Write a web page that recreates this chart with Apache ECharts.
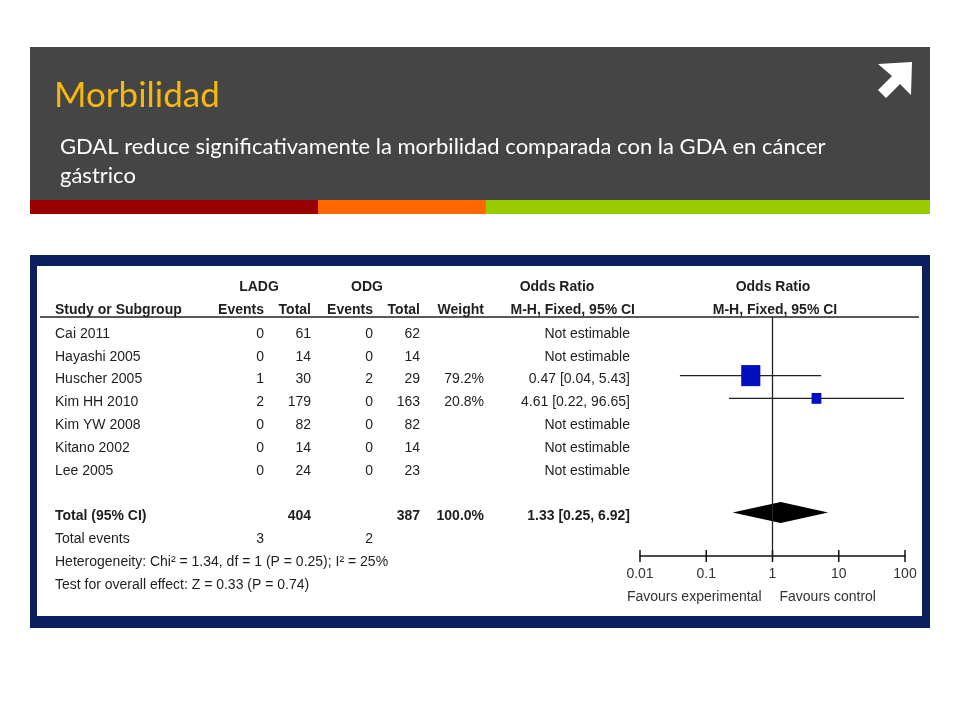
<!DOCTYPE html>
<html>
<head>
<meta charset="utf-8">
<script src="https://cdn.jsdelivr.net/npm/echarts@6/dist/echarts.min.js"></script>
<style>
  html, body { margin: 0; padding: 0; background: #fff; }
  #main { width: 960px; height: 720px; }
</style>
</head>
<body>
<div id="main"></div>
<script>
// datos del forest plot
var studies = ['Cai 2011', 'Hayashi 2005', 'Huscher 2005', 'Kim HH 2010', 'Kim YW 2008', 'Kitano 2002', 'Lee 2005'];
var ladgEvents = [0, 0, 1, 2, 0, 0, 0];
var ladgTotal = [61, 14, 30, 179, 82, 14, 24];
var odgEvents = [0, 0, 2, 0, 0, 0, 0];
var odgTotal = [62, 14, 29, 163, 82, 14, 23];
var weights = [null, null, 79.2, 20.8, null, null, null];
var oddsRatio = [null, null, 0.47, 4.61, null, null, null];
var ciLow = [null, null, 0.04, 0.22, null, null, null];
var ciHigh = [null, null, 5.43, 96.65, null, null, null];

var totalLadg = 404, totalOdg = 387, totalWeight = 100.0;
var pooled = [1.33, 0.25, 6.92]; // OR, low, high
var eventsLadg = 3, eventsOdg = 2;
var heterogeneity = 'Heterogeneity: Chi² = 1.34, df = 1 (P = 0.25); I² = 25%';
var overallTest = 'Test for overall effect: Z = 0.33 (P = 0.74)';
var xTicks = [0.01, 0.1, 1, 10, 100];

var TOTAL_ROW = 8;
var FONT = '"Liberation Sans", Arial, sans-serif';
var TXT = '#1e1e1e';

var chart = echarts.init(document.getElementById('main'));

function orText(o, l, h) {
  if (o == null) return 'Not estimable';
  return o.toFixed(2) + ' [' + l.toFixed(2) + ', ' + h.toFixed(2) + ']';
}

var studyData = [];
for (var i = 0; i < studies.length; i++) {
  if (oddsRatio[i] != null) studyData.push([oddsRatio[i], i, ciLow[i], ciHigh[i], weights[i]]);
}

var option = {
  animation: false,
  grid: { left: 640, right: 55, top: 317, bottom: 164 },
  xAxis: {
    type: 'log', logBase: 10, min: 0.01, max: 100,
    axisLine: { onZero: false, lineStyle: { color: '#111', width: 1.5 } },
    axisTick: { show: false },
    splitLine: { show: false },
    axisLabel: {
      color: '#333', fontSize: 14, fontFamily: FONT, margin: 11,
      formatter: function (v) { return String(+v.toPrecision(3)); }
    }
  },
  yAxis: { type: 'value', inverse: true, min: -0.57, max: 9.91, show: false },
  series: [
    {
      name: 'studies', type: 'custom', data: studyData,
      renderItem: function (params, api) {
        var c = api.coord([api.value(0), api.value(1)]);
        var lo = api.coord([api.value(2), api.value(1)]);
        var hi = api.coord([api.value(3), api.value(1)]);
        var s = 2.15 * Math.sqrt(api.value(4));
        return {
          type: 'group', children: [
            { type: 'line', shape: { x1: lo[0], y1: lo[1], x2: hi[0], y2: hi[1] },
              style: { stroke: '#222', lineWidth: 1.3 } },
            { type: 'rect', shape: { x: c[0] - s / 2, y: c[1] - s * 0.55, width: s, height: s * 1.1 },
              style: { fill: '#0010bf' } }
          ]
        };
      },
      markLine: {
        silent: true, symbol: 'none', label: { show: false },
        lineStyle: { color: '#222', width: 1.3, type: 'solid' },
        data: [{ xAxis: 1 }]
      }
    },
    {
      name: 'total', type: 'custom', data: [[pooled[0], TOTAL_ROW, pooled[1], pooled[2]]],
      renderItem: function (params, api) {
        var c = api.coord([api.value(0), api.value(1)]);
        var lo = api.coord([api.value(2), api.value(1)]);
        var hi = api.coord([api.value(3), api.value(1)]);
        var h = 10.5;
        return {
          type: 'polygon',
          shape: { points: [[lo[0], c[1]], [c[0], c[1] - h], [hi[0], c[1]], [c[0], c[1] + h]] },
          style: { fill: '#000' }
        };
      }
    },
    {
      name: 'ticks', type: 'custom', data: xTicks.map(function (t) { return [t, 9.91]; }),
      renderItem: function (params, api) {
        var p = api.coord([api.value(0), api.value(1)]);
        return { type: 'line', shape: { x1: p[0], y1: p[1] - 6, x2: p[0], y2: p[1] + 6 },
          style: { stroke: '#111', lineWidth: 1.5 } };
      }
    }
  ]
};
chart.setOption(option);

// textos de la tabla, alineados con las filas del eje y
function rowY(r) { return chart.convertToPixel({ yAxisIndex: 0 }, r) + 4; }
function txt(s, x, y, align, bold, extra) {
  var st = { text: s, x: x, y: y, align: align || 'left', verticalAlign: 'middle',
    fill: TXT, font: (bold ? 'bold ' : '') + '14px ' + FONT };
  if (extra) for (var k in extra) st[k] = extra[k];
  return { type: 'text', z: 10, style: st };
}

var COL = { name: 55, evA: 264, totA: 311, evB: 373, totB: 420, wt: 484, or: 630 };
var g = [];

// cabecera gris de la diapositiva
g.push({ type: 'rect', z: 1, shape: { x: 30, y: 47, width: 900, height: 153 }, style: { fill: '#454545' } });
g.push({ type: 'rect', z: 1, shape: { x: 30, y: 200, width: 288, height: 14 }, style: { fill: '#990000' } });
g.push({ type: 'rect', z: 1, shape: { x: 318, y: 200, width: 168, height: 14 }, style: { fill: '#ff6600' } });
g.push({ type: 'rect', z: 1, shape: { x: 486, y: 200, width: 444, height: 14 }, style: { fill: '#99cc00' } });
g.push({ type: 'text', z: 2, style: { text: 'Morbilidad', x: 54, y: 96, verticalAlign: 'middle',
  fill: '#f6b80c', font: '35px Lato, "Open Sans", sans-serif' } });
g.push({ type: 'text', z: 2, style: { text: 'GDAL reduce significativamente la morbilidad comparada con la GDA en cáncer', x: 60, y: 147,
  verticalAlign: 'middle', fill: '#fff', font: '22px Lato, "Open Sans", sans-serif' } });
g.push({ type: 'text', z: 2, style: { text: 'gástrico', x: 60, y: 176,
  verticalAlign: 'middle', fill: '#fff', font: '22px Lato, "Open Sans", sans-serif' } });
g.push({ type: 'polygon', z: 2, shape: { points: [[878, 64], [912, 62], [911, 95], [900, 84], [886, 98], [878, 90], [892, 76]] },
  style: { fill: '#fff' } });

// marco azul del gráfico
g.push({ type: 'rect', z: 0, shape: { x: 30, y: 255, width: 900, height: 373 }, style: { fill: '#0b1f5e' } });
g.push({ type: 'rect', z: 0, shape: { x: 37, y: 266, width: 885, height: 350 }, style: { fill: '#fff' } });

// encabezados
g.push(txt('LADG', 259, 287, 'center', true));
g.push(txt('ODG', 367, 287, 'center', true));
g.push(txt('Odds Ratio', 557, 287, 'center', true));
g.push(txt('Odds Ratio', 773, 287, 'center', true));
g.push(txt('Study or Subgroup', COL.name, 310, 'left', true));
g.push(txt('Events', COL.evA, 310, 'right', true));
g.push(txt('Total', COL.totA, 310, 'right', true));
g.push(txt('Events', COL.evB, 310, 'right', true));
g.push(txt('Total', COL.totB, 310, 'right', true));
g.push(txt('Weight', COL.wt, 310, 'right', true));
g.push(txt('M-H, Fixed, 95% CI', 635, 310, 'right', true));
g.push(txt('M-H, Fixed, 95% CI', 775, 310, 'center', true));
g.push({ type: 'line', z: 10, shape: { x1: 40, y1: 317, x2: 919, y2: 317 }, style: { stroke: '#222', lineWidth: 1.5 } });

// filas de estudios
for (var r = 0; r < studies.length; r++) {
  var y = rowY(r);
  g.push(txt(studies[r], COL.name, y));
  g.push(txt(String(ladgEvents[r]), COL.evA, y, 'right'));
  g.push(txt(String(ladgTotal[r]), COL.totA, y, 'right'));
  g.push(txt(String(odgEvents[r]), COL.evB, y, 'right'));
  g.push(txt(String(odgTotal[r]), COL.totB, y, 'right'));
  if (weights[r] != null) g.push(txt(weights[r].toFixed(1) + '%', COL.wt, y, 'right'));
  g.push(txt(orText(oddsRatio[r], ciLow[r], ciHigh[r]), COL.or, y, 'right'));
}

// totales
var yt = rowY(TOTAL_ROW);
g.push(txt('Total (95% CI)', COL.name, yt, 'left', true));
g.push(txt(String(totalLadg), COL.totA, yt, 'right', true));
g.push(txt(String(totalOdg), COL.totB, yt, 'right', true));
g.push(txt(totalWeight.toFixed(1) + '%', COL.wt, yt, 'right', true));
g.push(txt(orText(pooled[0], pooled[1], pooled[2]), COL.or, yt, 'right', true));
var ye = rowY(TOTAL_ROW + 1);
g.push(txt('Total events', COL.name, ye));
g.push(txt(String(eventsLadg), COL.evA, ye, 'right'));
g.push(txt(String(eventsOdg), COL.evB, ye, 'right'));
g.push(txt(heterogeneity, COL.name, rowY(TOTAL_ROW + 2)));
g.push(txt(overallTest, COL.name, rowY(TOTAL_ROW + 3)));

// etiquetas bajo el eje
var x1 = chart.convertToPixel({ xAxisIndex: 0 }, 1);
g.push(txt('Favours experimental', x1 - 11, 597, 'right', false, { fill: '#333' }));
g.push(txt('Favours control', x1 + 7, 597, 'left', false, { fill: '#333' }));

chart.setOption({ graphic: { elements: g } });
</script>
</body>
</html>
